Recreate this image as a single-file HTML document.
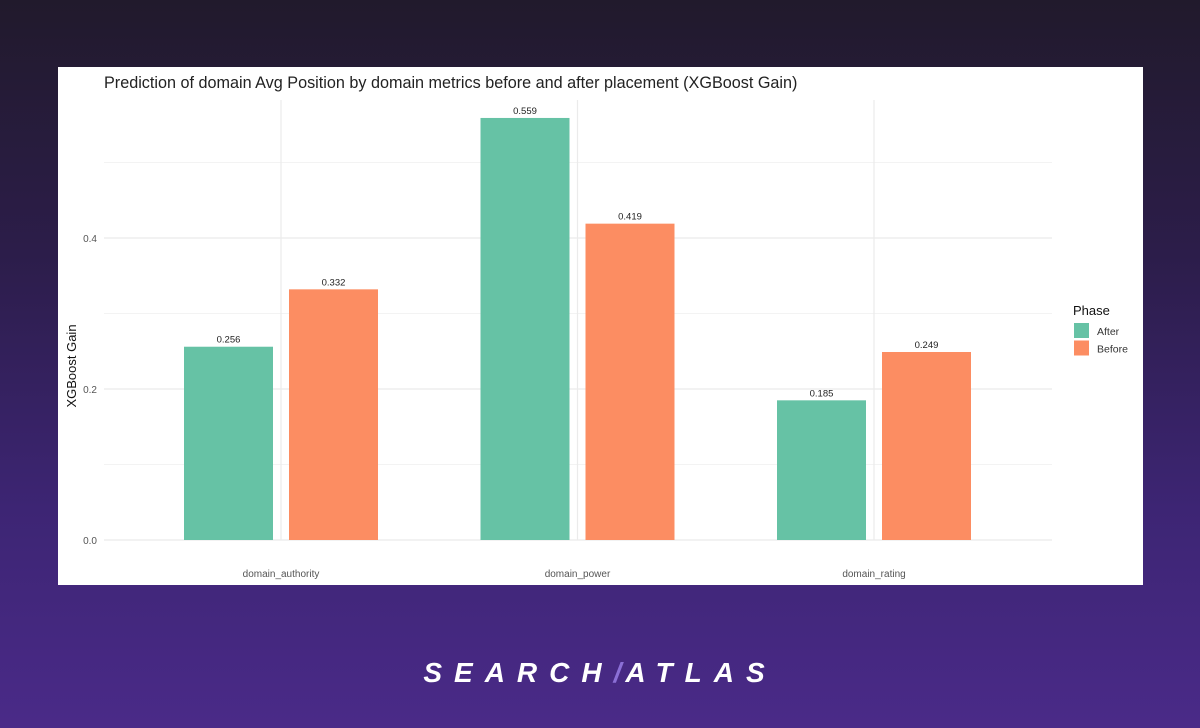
<!DOCTYPE html>
<html><head><meta charset="utf-8">
<style>
html,body{margin:0;padding:0;width:1200px;height:728px;overflow:hidden;font-family:"Liberation Sans",sans-serif;}
body{background:linear-gradient(180deg,#211a2c 0%,#2c1d4a 35%,#3d2574 70%,#4a2a88 100%);position:relative;}
#panel{position:absolute;left:58px;top:67px;width:1085px;height:518px;background:#fff;}
#logo{position:absolute;left:0;width:1200px;top:657px;text-align:center;color:#fff;font-size:28px;font-weight:bold;font-style:italic;letter-spacing:12px;}
#logo .sl{color:#8b6fd6;letter-spacing:4px;}
</style></head><body>
<div id="panel">
<svg id="chart" width="1085" height="518"></svg>
</div>
<div id="logo">SEARCH<span class="sl">/</span>ATLAS</div>
<script>
const categories=["domain_authority","domain_power","domain_rating"];
const afterVals=[0.256,0.559,0.185];
const beforeVals=[0.332,0.419,0.249];
const yTicks=[0.0,0.2,0.4];
const yTickLabels=["0.0","0.2","0.4"];
const minorTicks=[0.1,0.3,0.5];
const seriesNames=["After","Before"];
const colors=["#66c2a5","#fc8d62"];

const NS="http://www.w3.org/2000/svg";
const svg=document.getElementById('chart');
const ox=58,oy=67;
const plotL=104-ox,plotR=1052-ox;
function yS(v){return (540-oy)-v*755;}
function xC(i){return (281-ox)+i*296.5;}
function mk(tag,attrs,text){const e=document.createElementNS(NS,tag);for(const k in attrs)e.setAttribute(k,attrs[k]);if(text!==undefined)e.textContent=text;svg.appendChild(e);return e;}

let t=mk('text',{x:104-ox,y:88-oy,'font-size':16.2,fill:'#222'},"Prediction of domain Avg Position by domain metrics before and after placement (XGBoost Gain)");



minorTicks.forEach(v=>{const l=mk('line',{x1:plotL,x2:plotR,y1:yS(v),y2:yS(v),stroke:'#f3f3f3','stroke-width':1});

});
yTicks.forEach((v,i)=>{const l=mk('line',{x1:plotL,x2:plotR,y1:yS(v),y2:yS(v),stroke:'#ebebeb','stroke-width':1.2});


const tx=mk('text',{x:97-ox,y:yS(v)+4,'font-size':10,fill:'#555','text-anchor':'end'},yTickLabels[i]);

});
categories.forEach((c,i)=>{const l=mk('line',{x1:xC(i),x2:xC(i),y1:100-oy,y2:yS(0),stroke:'#ebebeb','stroke-width':1.2});


const tx=mk('text',{x:xC(i),y:577-oy,'font-size':10,fill:'#555','text-anchor':'middle'},c);

});

const bw=89,gap=16;
[afterVals,beforeVals].forEach((vals,s)=>{
 vals.forEach((v,i)=>{
  const x=xC(i)+(s===0?-(bw+gap/2):gap/2);
  const r=mk('rect',{x:x,y:yS(v),width:bw,height:yS(0)-yS(v),fill:colors[s]});
  
  
  const tx=mk('text',{x:x+bw/2,y:yS(v)-4,'font-size':9.5,fill:'#222','text-anchor':'middle'},v.toFixed(3));
  
  
 });
});

const yt=mk('text',{x:0,y:0,'font-size':13,fill:'#111','text-anchor':'middle',transform:`translate(${76-ox},${366-oy}) rotate(-90)`},"XGBoost Gain");



const lt=mk('text',{x:1073-ox,y:315-oy,'font-size':13,fill:'#111'},"Phase");


seriesNames.forEach((n,s)=>{
 const g=mk('g',{});
 
 
 const r=document.createElementNS(NS,'rect');r.setAttribute('x',1074-ox);r.setAttribute('y',323-oy+s*17.5);r.setAttribute('width',15);r.setAttribute('height',15);r.setAttribute('fill',colors[s]);g.appendChild(r);
 const tx=document.createElementNS(NS,'text');tx.setAttribute('x',1097-ox);tx.setAttribute('y',335-oy+s*17.5);tx.setAttribute('font-size',10.5);tx.setAttribute('fill','#333');tx.textContent=n;g.appendChild(tx);
});
</script>
</body></html>
